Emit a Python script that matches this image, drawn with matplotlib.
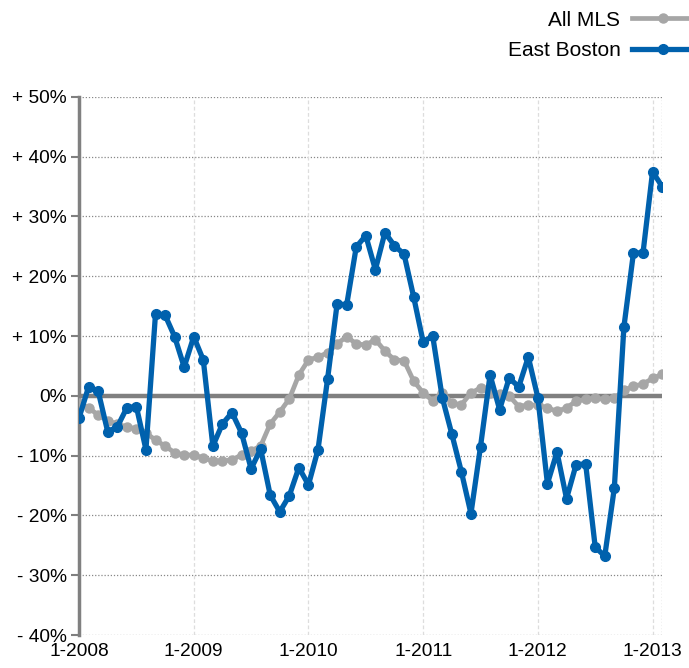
import numpy as np
import matplotlib.pyplot as plt

plt.rcParams['font.family'] = ['Liberation Sans', 'DejaVu Sans']

# monthly change, Jan 2008 .. Feb 2013 (percent)
all_mls = [-1.2, -2.0, -3.2, -4.2, -4.7, -5.2, -5.5, -6.2, -7.4, -8.4,
           -9.5, -9.9, -9.9, -10.4, -10.9, -10.9, -10.7, -9.9, -9.2, -8.4,
           -4.7, -2.7, -0.5, 3.5, 6.0, 6.5, 7.2, 8.7, 9.9, 8.7,
           8.5, 9.4, 7.5, 6.0, 5.9, 2.5, 0.5, -0.8, 0.5, -1.2,
           -1.5, 0.5, 1.3, 0.5, 0.3, 0.0, -1.8, -1.5, -1.6, -2.0,
           -2.6, -2.0, -0.9, -0.6, -0.4, -0.6, -0.4, 0.9, 1.6, 2.0,
           2.9, 3.6]
east_boston = [-3.7, 1.5, 0.8, -6.0, -5.2, -2.0, -1.8, -9.0, 13.7, 13.5,
               9.9, 4.8, 9.9, 6.0, -8.4, -4.7, -2.8, -6.2, -12.2, -8.9,
               -16.6, -19.4, -16.7, -12.0, -14.9, -9.0, 2.8, 15.4, 15.2, 24.9,
               26.8, 21.1, 27.3, 25.1, 23.7, 16.6, 9.0, 10.0, -0.3, -6.4,
               -12.7, -19.7, -8.5, 3.5, -2.3, 3.0, 1.5, 6.5, -0.3, -14.7,
               -9.4, -17.2, -11.5, -11.4, -25.3, -26.8, -15.4, 11.5, 23.9, 23.9,
               37.5, 35.0]
year_labels = ["1-2008", "1-2009", "1-2010", "1-2011", "1-2012", "1-2013"]
y_ticks = [50, 40, 30, 20, 10, 0, -10, -20, -30, -40]

months = np.arange(len(east_boston))

fig = plt.figure(figsize=(6.89, 6.68), dpi=100)
ax = fig.add_axes([0.1147, 0.0494, 0.8463, 0.8056])

# grid
for v in y_ticks:
    if v != 0:
        ax.axhline(v, color='#888888', lw=0.9, ls=(0, (1, 1.5)), zorder=1)
for m in range(0, 61, 12):
    ax.axvline(m, color='#dddddd', lw=0.9, ls=(0, (3, 2)), zorder=1)
ax.axvline(61, color='#999999', lw=0.9, ls=(0, (1, 1.5)), zorder=1)
ax.axhline(0, color='#808080', lw=3.2, zorder=2)

ax.plot(months, all_mls, color='#a6a6a6', lw=3.4, marker='o', ms=6.5,
        label='All MLS', zorder=3)
ax.plot(months, east_boston, color='#0061ad', lw=3.8, marker='o', ms=7,
        label='East Boston', zorder=4)

ax.set_xlim(0, 61)
ax.set_ylim(-40, 50)
ax.set_yticks(y_ticks)
ax.set_yticklabels([("+ %d%%" % v) if v > 0 else ("- %d%%" % -v) if v < 0 else "0%"
                    for v in y_ticks])
ax.set_xticks(range(0, 61, 12))
ax.set_xticklabels(year_labels)
ax.tick_params(axis='y', labelsize=13.8, length=6, width=1.5, color='#808080', pad=3)
ax.tick_params(axis='x', labelsize=13.8, length=0, pad=6)

for s in ['top', 'right', 'bottom']:
    ax.spines[s].set_visible(False)
ax.spines['left'].set_color('#808080')
ax.spines['left'].set_linewidth(2.5)

leg = fig.legend(loc='upper right', bbox_to_anchor=(1.035, 1.012), frameon=False,
                 fontsize=15, markerfirst=False, handlelength=3.0,
                 labelspacing=0.55, handletextpad=0.55)

plt.savefig('out.png', dpi=100)
